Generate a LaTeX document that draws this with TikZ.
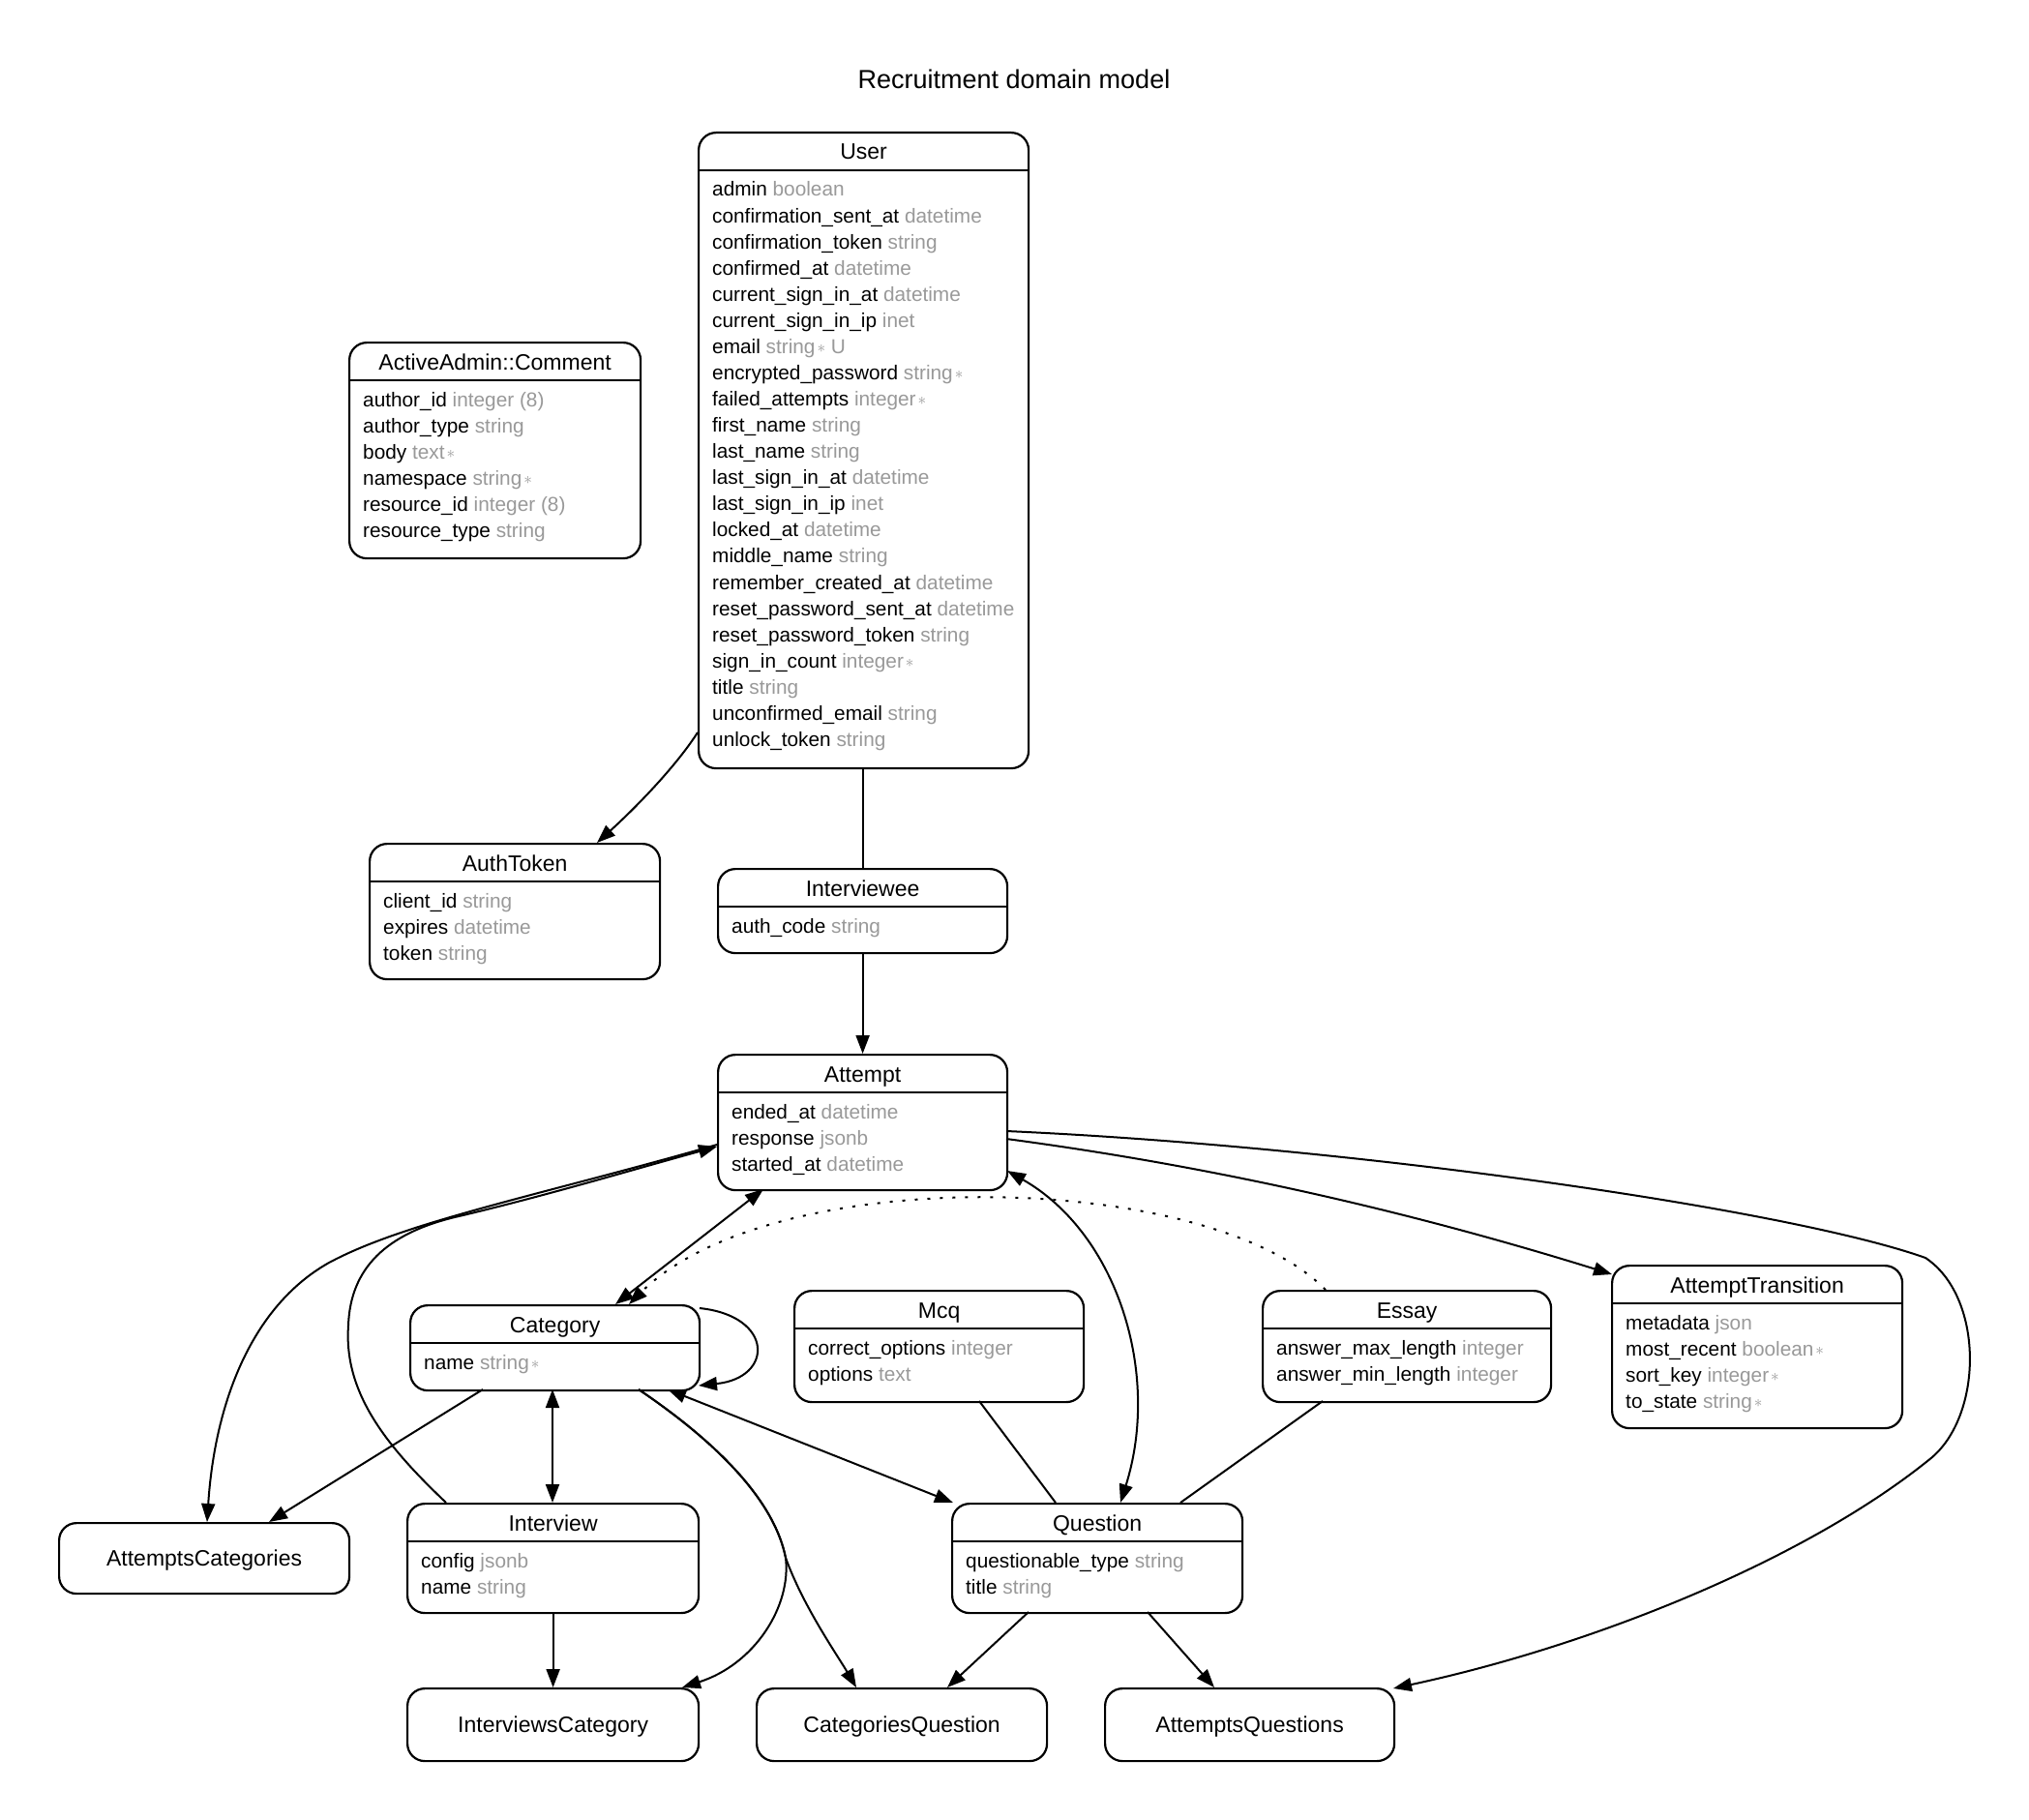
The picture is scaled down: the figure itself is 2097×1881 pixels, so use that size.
\documentclass[tikz,border=0pt]{standalone}
\usepackage{fontspec}
\setmainfont{Liberation Sans}
\usetikzlibrary{arrows.meta}
\definecolor{typegray}{RGB}{153,153,153}
\newcommand\req{\hspace{2pt}\raisebox{0.8pt}{\fontsize{18}{18}\selectfont$\ast$}}
\tikzset{
  ebox/.style={draw, line width=2.2pt, rounded corners=18pt, inner sep=0pt},
  hdr/.style={font=\fontsize{23}{27}\selectfont, inner sep=0pt},
  fld/.style={font=\fontsize{20.8}{27}\selectfont, inner sep=0pt},
  sepline/.style={line width=2.2pt},
  rel/.style={line width=2pt},
  indirect/.style={line width=2pt, dash pattern=on 3pt off 10pt},
}
\newcommand\entity[6]{%
  \node[ebox, minimum width=#4pt, minimum height=#5pt, anchor=north west] (#1) at (#2,#3) {};
  \node[hdr, anchor=base] (#1-title) at ([shift={(0,29)}]#1.north) {#6};
  \draw[sepline] ([shift={(0,40)}]#1.north west) -- ([shift={(0,40)}]#1.north east);
}
\newcommand\plainent[6]{%
  \node[ebox, minimum width=#4pt, minimum height=#5pt, anchor=north west] (#1) at (#2,#3) {};
  \node[hdr, anchor=base] (#1-title) at ([shift={(0,8.2)}]#1.center) {#6};
}
\newcommand\fields[2]{%
  \foreach \fn/\ft [count=\i from 0] in {#2} {
    \node[fld, anchor=base west] (#1-f\i) at ([shift={(15,{67+\i*27.07})}]#1.north west) {\fn\ \textcolor{typegray}{\ft}};
  }
}
\begin{document}
\begin{tikzpicture}[x=1pt,y=-1pt,>={Triangle[length=19pt,width=14pt]}]
\fill[white] (0,0) rectangle (2097,1881);
\useasboundingbox (0,0) rectangle (2097,1881);

\node[font=\fontsize{27}{32}\selectfont] (title) at (1048,82) {Recruitment domain model};

% entities
\entity{user}{721}{136}{341}{657}{User}
\fields{user}{admin/boolean, confirmation\_sent\_at/datetime, confirmation\_token/string,
  confirmed\_at/datetime, current\_sign\_in\_at/datetime, current\_sign\_in\_ip/inet,
  email/{string\req\ U}, encrypted\_password/{string\req}, failed\_attempts/{integer\req},
  first\_name/string, last\_name/string, last\_sign\_in\_at/datetime, last\_sign\_in\_ip/inet,
  locked\_at/datetime, middle\_name/string, remember\_created\_at/datetime,
  reset\_password\_sent\_at/datetime, reset\_password\_token/string, sign\_in\_count/{integer\req},
  title/string, unconfirmed\_email/string, unlock\_token/string}

\entity{comment}{360}{353}{301}{223}{ActiveAdmin::Comment}
\fields{comment}{author\_id/{integer (8)}, author\_type/string, body/{text\req},
  namespace/{string\req}, resource\_id/{integer (8)}, resource\_type/string}

\entity{authtoken}{381}{871}{300}{140}{AuthToken}
\fields{authtoken}{client\_id/string, expires/datetime, token/string}

\entity{interviewee}{741}{897}{299}{87}{Interviewee}
\fields{interviewee}{auth\_code/string}

\entity{attempt}{741}{1089}{299}{140}{Attempt}
\fields{attempt}{ended\_at/datetime, response/jsonb, started\_at/datetime}

\entity{category}{423}{1348}{299}{88}{Category}
\fields{category}{name/{string\req}}

\entity{mcq}{820}{1333}{299}{115}{Mcq}
\fields{mcq}{correct\_options/integer, options/text}

\entity{essay}{1304}{1333}{298}{115}{Essay}
\fields{essay}{answer\_max\_length/integer, answer\_min\_length/integer}

\entity{transition}{1665}{1307}{300}{168}{AttemptTransition}
\fields{transition}{metadata/json, most\_recent/{boolean\req}, sort\_key/{integer\req}, to\_state/{string\req}}

\entity{interview}{420}{1553}{301}{113}{Interview}
\fields{interview}{config/jsonb, name/string}

\entity{question}{983}{1553}{300}{113}{Question}
\fields{question}{questionable\_type/string, title/string}

\plainent{attcat}{60}{1573}{300}{73}{AttemptsCategories}
\plainent{intcat}{420}{1744}{301}{75}{InterviewsCategory}
\plainent{catq}{781}{1744}{300}{75}{CategoriesQuestion}
\plainent{attq}{1141}{1744}{299}{75}{AttemptsQuestions}

% connectors
\draw[rel,->] ([shift={(0,621)}]user.north west) .. controls (700,790) and (660,832) .. ([shift={(236,0)}]authtoken.north west);
\draw[rel] (interviewee.north |- user.south) -- (interviewee.north);
\draw[rel,->] (interviewee.south) -- (attempt.north);

\draw[rel,->] ([shift={(299,88)}]attempt.north west) .. controls (1250,1205) and (1450,1250) .. ([shift={(1,10)}]transition.north west);
\draw[rel,->] ([shift={(299,80)}]attempt.north west) .. controls (1400,1185) and (1850,1250) .. (1990,1300)
   .. controls (2050,1340) and (2050,1460) .. (1997,1506)
   .. controls (1870,1610) and (1650,1700) .. ([shift={(299,1)}]attq.north west);

\draw[rel,<->] ([shift={(48,140)}]attempt.north west) -- ([shift={(213,0)}]category.north west);
\draw[indirect,->] ([shift={(66,0)}]essay.north west) .. controls (1250,1210) and (800,1200) .. ([shift={(227,0)}]category.north west);

\draw[rel,<->] ([shift={(300,121)}]attempt.north west) .. controls (1155,1275) and (1200,1420) .. ([shift={(175,0)}]question.north west);

\draw[rel,->] ([shift={(0,94)}]attempt.north west) .. controls (560,1235) and (420,1262) .. (340,1305)
   .. controls (260,1350) and (222,1450) .. ([shift={(154,0)}]attcat.north west);
\draw[rel,->] ([shift={(41,0)}]interview.north west) .. controls (400,1495) and (355,1440) .. (360,1370)
   .. controls (362,1310) and (400,1275) .. (470,1258)
   .. controls (560,1237) and (650,1210) .. ([shift={(0,96)}]attempt.north west);

\draw[rel,->] ([shift={(300,4)}]category.north west) .. controls (800,1360) and (800,1424) .. ([shift={(299,84)}]category.north west);
\draw[rel,->] ([shift={(76,88)}]category.north west) -- ([shift={(218,0)}]attcat.north west);
\draw[rel,<->] ([shift={(148,88)}]category.north west) -- ([shift={(151,0)}]interview.north west);
\draw[rel,<->] ([shift={(267,88)}]category.north west) -- ([shift={(2,0)}]question.north west);
\draw[rel,->] ([shift={(237,88)}]category.north west) .. controls (740,1490) and (800,1550) .. (812,1610)
   .. controls (830,1660) and (865,1710) .. ([shift={(104,0)}]catq.north west);
\draw[rel,->] ([shift={(237,88)}]category.north west) .. controls (740,1490) and (800,1550) .. (812,1610)
   .. controls (818,1660) and (780,1720) .. ([shift={(285,0)}]intcat.north west);

\draw[rel,->] (interview.south) -- (intcat.north);
\draw[rel] ([shift={(192,115)}]mcq.north west) -- ([shift={(108,0)}]question.north west);
\draw[rel] ([shift={(63,115)}]essay.north west) -- ([shift={(237,0)}]question.north west);
\draw[rel,->] ([shift={(80,113)}]question.north west) -- ([shift={(198,0)}]catq.north west);
\draw[rel,->] ([shift={(203,113)}]question.north west) -- ([shift={(114,0)}]attq.north west);
\end{tikzpicture}
\end{document}
